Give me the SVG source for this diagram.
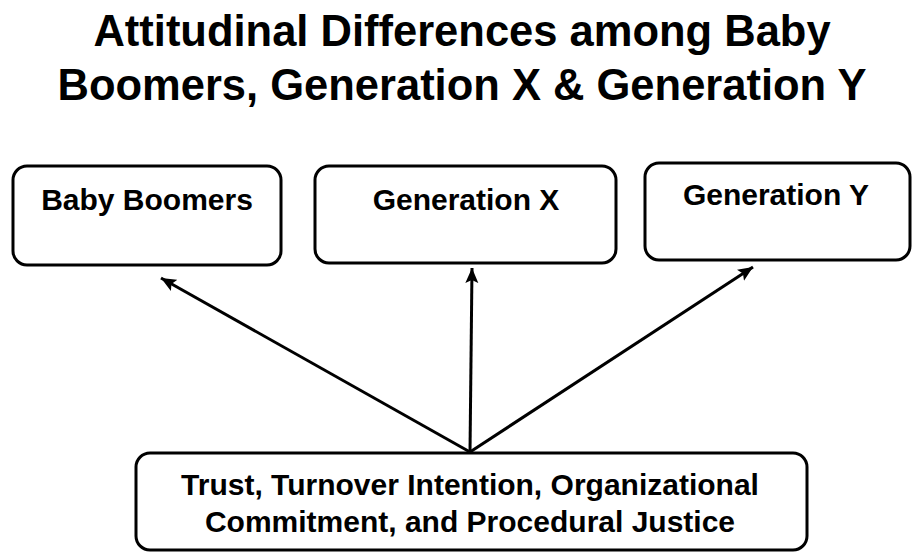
<svg xmlns="http://www.w3.org/2000/svg" width="912" height="553" viewBox="0 0 912 553">
  <style>
    .box { fill: #ffffff; stroke: #000000; stroke-width: 3; }
    .label { font-family: "Liberation Sans", Arial, sans-serif; font-weight: bold; font-size: 30px; fill: #000000; text-anchor: middle; }
    .title { font-family: "Liberation Sans", Arial, sans-serif; font-weight: bold; font-size: 43.5px; fill: #000000; text-anchor: middle; }
    .link { stroke: #000000; stroke-width: 3; fill: none; marker-end: url(#arrow); }
  </style>
  <defs>
    <marker id="arrow" markerUnits="userSpaceOnUse" markerWidth="18" markerHeight="14" refX="15" refY="6.5" orient="auto">
      <path d="M0,0 L15,6.5 L0,13 L3,6.5 Z" fill="#000000"/>
    </marker>
  </defs>
  <rect width="912" height="553" fill="#ffffff"/>

  <g id="title">
    <text class="title" x="462" y="46">Attitudinal Differences among Baby</text>
    <text class="title" x="462" y="100">Boomers, Generation X &amp; Generation Y</text>
  </g>

  <g id="connectors">
    <line class="link" x1="470" y1="452" x2="161" y2="278"/>
    <line class="link" x1="470" y1="452" x2="472" y2="268"/>
    <line class="link" x1="470" y1="452" x2="753" y2="267"/>
  </g>

  <g id="baby-boomers">
    <rect class="box" x="13" y="166" width="268" height="99" rx="14"/>
    <text class="label" x="147" y="210">Baby Boomers</text>
  </g>

  <g id="generation-x">
    <rect class="box" x="315" y="166" width="301" height="97" rx="14"/>
    <text class="label" x="466" y="210">Generation X</text>
  </g>

  <g id="generation-y">
    <rect class="box" x="645" y="163" width="265" height="97" rx="14"/>
    <text class="label" x="776" y="205">Generation Y</text>
  </g>

  <g id="attitudes">
    <rect class="box" x="136" y="453" width="671" height="97" rx="14"/>
    <text class="label" x="470" y="495">Trust, Turnover Intention, Organizational</text>
    <text class="label" x="470" y="532">Commitment, and Procedural Justice</text>
  </g>
</svg>
